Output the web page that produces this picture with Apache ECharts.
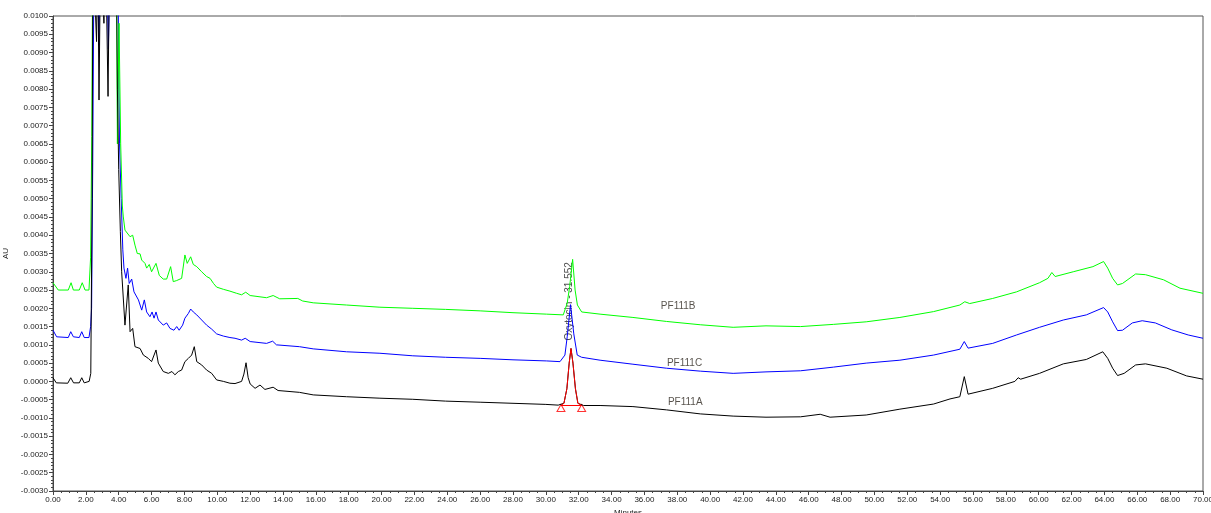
<!DOCTYPE html>
<html>
<head>
<meta charset="utf-8">
<title>PF111 chromatogram</title>
<script src="https://cdn.jsdelivr.net/npm/echarts@6/dist/echarts.min.js"></script>
<style>
    html, body { margin: 0; padding: 0; background: #fff; }
    #chartView { width: 1211px; height: 513px; }
</style>
</head>
<body>
<div id="chartView"></div>
<script>
    // PF111A (black)
    var pf111aTime = [0, 0.2, 0.9, 1.08, 1.25, 1.6, 1.75, 1.9, 2.2, 2.3, 2.38, 2.43, 2.55, 2.65, 2.72, 2.8, 2.9, 3.1, 3.2, 3.35, 3.45, 3.85, 3.92, 4.0, 4.1, 4.18,
        4.38, 4.58, 4.69, 4.85, 4.99, 5.3, 5.5, 5.8, 6.0, 6.27, 6.41, 6.71, 7.02, 7.24, 7.42, 7.63, 7.83, 8.03, 8.24, 8.44, 8.6, 8.75, 9.05, 9.35, 9.66, 9.96,
        10.37, 10.77, 11.08, 11.48, 11.62, 11.75, 11.88, 12.0, 12.3, 12.6, 12.9, 13.4, 13.7, 15.0, 15.84, 17.87, 19.9, 21.9, 23.9, 26.0, 28.0, 30.0, 30.75,
        31.1, 31.28, 31.42, 31.53, 31.65, 31.8, 31.95, 32.3, 33.3, 35.3, 37.35, 39.4, 41.4, 43.4, 45.5, 46.7, 47.3, 49.5, 51.55, 53.6, 54.6, 55.2, 55.47, 55.7,
        57.2, 58.55, 58.75, 58.9, 60.05, 61.5, 62.9, 63.9, 64.2, 64.5, 64.8, 65.2, 65.9, 66.5, 67.8, 69.0, 70.0];
    var pf111aValue = [0.0001, -0.00004, -0.00005, 0.0001, -0.00004, -0.00004, 0.0001, -0.00004, 0.0, 0.00022, 0.005, 0.012, 0.012, 0.0093, 0.012, 0.0077, 0.012, 0.0098, 0.012, 0.0078, 0.012, 0.012, 0.008, 0.0058, 0.0041, 0.003,
        0.00154, 0.00264, 0.00136, 0.00145, 0.00095, 0.0009, 0.00072, 0.00063, 0.00054, 0.00086, 0.0005, 0.00027, 0.00022, 0.00027, 0.00018, 0.00027, 0.00031, 0.00054, 0.00063, 0.00072, 0.00095, 0.00054, 0.00045, 0.00031, 0.00022, 0.00004,
        0.0, -0.00005, -0.00006, 0.0, 0.0002, 0.00051, 0.0001, -0.00007, -0.00019, -0.0001, -0.00022, -0.00016, -0.00025, -0.0003, -0.00037, -0.00042, -0.00046, -0.00049, -0.00054, -0.00057, -0.0006, -0.00063, -0.00065,
        -0.0006, -0.0002, 0.0005, 0.0009, 0.0005, -0.0002, -0.0006, -0.00066, -0.00066, -0.00069, -0.00078, -0.00089, -0.00095, -0.00098, -0.00097, -0.0009, -0.00098, -0.00092, -0.00076, -0.00062, -0.00048, -0.00042, 0.00013, -0.00035,
        -0.00019, 0.0, 0.0001, 0.00006, 0.00022, 0.00048, 0.0006, 0.00081, 0.00063, 0.00036, 0.00016, 0.00022, 0.00045, 0.00048, 0.00036, 0.00015, 0.00006];

    // PF111C (blue)
    var pf111cTime = [0, 0.22, 0.93, 1.08, 1.24, 1.6, 1.75, 1.9, 2.19, 2.29, 2.35, 2.42, 2.5, 2.7, 2.79, 2.9, 3.25, 3.37, 3.5, 3.95, 4.0, 4.05, 4.15, 4.25, 4.32,
        4.44, 4.54, 4.64, 4.79, 4.93, 5.2, 5.3, 5.4, 5.56, 5.7, 5.9, 6.03, 6.15, 6.27, 6.41, 6.71, 6.92, 7.12, 7.22, 7.36, 7.53, 7.68, 7.89, 8.03, 8.24, 8.38,
        8.54, 8.75, 9.05, 9.35, 9.66, 9.96, 10.37, 10.77, 11.08, 11.2, 11.48, 11.7, 12.0, 13.0, 13.37, 13.6, 15.0, 15.84, 17.87, 19.9, 21.9, 23.9, 26.0, 28.0,
        30.05, 30.86, 31.16, 31.3, 31.5, 31.7, 31.91, 32.18, 33.3, 35.3, 37.35, 39.4, 41.4, 43.4, 45.5, 47.5, 49.5, 51.55, 53.6, 55.2, 55.47, 55.7, 57.2, 58.65,
        60.05, 61.5, 62.9, 63.95, 64.2, 64.5, 64.8, 65.1, 65.7, 66.3, 67.1, 68.1, 69.1, 70.0];
    var pf111cValue = [0.0014, 0.00122, 0.0012, 0.00136, 0.00122, 0.0012, 0.00136, 0.0012, 0.0012, 0.0015, 0.002, 0.006, 0.012, 0.012, 0.0092, 0.012, 0.012, 0.0091, 0.012, 0.012, 0.0085, 0.0065, 0.005, 0.0036, 0.0031,
        0.00282, 0.0031, 0.00268, 0.0028, 0.00245, 0.00223, 0.00218, 0.00195, 0.00223, 0.0019, 0.00177, 0.0019, 0.00173, 0.0019, 0.00168, 0.00154, 0.0016, 0.00145, 0.0015, 0.0014, 0.0015, 0.0014, 0.00154, 0.00173, 0.00186, 0.00198,
        0.0019, 0.00182, 0.00168, 0.00154, 0.00143, 0.0013, 0.00124, 0.0012, 0.00118, 0.0012, 0.00113, 0.00118, 0.00109, 0.00104, 0.0011, 0.001, 0.00095, 0.00089, 0.00081, 0.00077, 0.0007, 0.00066, 0.00063, 0.00059,
        0.00056, 0.00054, 0.00072, 0.00122, 0.0021, 0.0013, 0.00072, 0.00066, 0.00058, 0.00047, 0.00036, 0.00028, 0.00022, 0.00026, 0.00029, 0.00039, 0.0005, 0.00058, 0.00072, 0.00088, 0.00109, 0.00091, 0.00104, 0.00127,
        0.00148, 0.00168, 0.00182, 0.00202, 0.0019, 0.00163, 0.00139, 0.0014, 0.0016, 0.00166, 0.0016, 0.00141, 0.00127, 0.00118];

    // PF111B (green)
    var pf111bTime = [0, 0.32, 0.93, 1.1, 1.24, 1.6, 1.78, 1.95, 2.19, 2.29, 2.36, 2.42, 3.85, 3.92, 4.02, 4.12, 4.22, 4.28, 4.38, 4.49, 4.69, 4.85, 4.99, 5.13,
        5.3, 5.4, 5.6, 5.7, 5.86, 6.0, 6.27, 6.47, 6.71, 6.92, 7.16, 7.32, 7.53, 7.63, 7.83, 8.03, 8.17, 8.38, 8.54, 8.75, 9.05, 9.35, 9.56, 9.77, 9.96, 10.37,
        10.77, 11.18, 11.48, 11.73, 12.0, 13.0, 13.4, 13.8, 14.9, 15.2, 15.84, 17.87, 19.9, 21.9, 23.9, 26.0, 28.0, 30.05, 31.06, 31.3, 31.45, 31.63, 31.78,
        31.92, 32.18, 33.3, 35.3, 37.35, 39.4, 41.4, 43.4, 45.5, 47.5, 49.5, 51.55, 53.6, 55.2, 55.5, 55.8, 57.2, 58.65, 60.05, 60.56, 60.8, 61.0, 62.1, 63.3,
        63.95, 64.2, 64.5, 64.8, 65.1, 65.9, 66.5, 67.6, 68.6, 70.0];
    var pf111bValue = [0.0027, 0.0025, 0.0025, 0.0027, 0.0025, 0.0025, 0.0027, 0.0025, 0.0025, 0.0034, 0.0067, 0.012, 0.012, 0.0065, 0.0098, 0.0065, 0.0048, 0.0045, 0.00414, 0.0041, 0.00396, 0.004, 0.00373, 0.0035,
        0.00349, 0.00332, 0.00323, 0.0031, 0.0032, 0.003, 0.00323, 0.0029, 0.0028, 0.0028, 0.00314, 0.00273, 0.00276, 0.00272, 0.00282, 0.00346, 0.00323, 0.00341, 0.0032, 0.00314, 0.003, 0.00287, 0.00282, 0.00268, 0.00258, 0.00252,
        0.00247, 0.00241, 0.00237, 0.00244, 0.00235, 0.00229, 0.00235, 0.00226, 0.00227, 0.0022, 0.00215, 0.00209, 0.00203, 0.002, 0.00197, 0.00193, 0.00188, 0.00184, 0.00182, 0.00214, 0.0026, 0.00334, 0.0025,
        0.00209, 0.0019, 0.00184, 0.00175, 0.00164, 0.00155, 0.00148, 0.00152, 0.0015, 0.00156, 0.00163, 0.00175, 0.00191, 0.00209, 0.00218, 0.00213, 0.00227, 0.00245, 0.0027, 0.00282, 0.00298, 0.00287, 0.003, 0.00314,
        0.00328, 0.0031, 0.00282, 0.00264, 0.00268, 0.00294, 0.00292, 0.00278, 0.00255, 0.00241];

    // integrated oxytocin peak on PF111A (red), closed by its baseline
    var peakTime = [30.92, 31.1, 31.28, 31.42, 31.53, 31.65, 31.8, 31.95, 32.18, 30.92];
    var peakValue = [-0.00066, -0.0006, -0.0002, 0.0005, 0.0009, 0.0005, -0.0002, -0.0006, -0.00066, -0.00066];
    var peakMarkTime = [30.92, 32.18];
    var peakMarkValue = [-0.00073, -0.00073];
    var peakName = 'Oxytocin - 31.552';
    var peakLabelPos = [31.44, 0.0009];

    // trace names placed next to the traces
    var traceNames = ['PF111B', 'PF111C', 'PF111A'];
    var traceNameTime = [37.0, 37.37, 37.43];
    var traceNameValue = [0.00206, 0.0005, -0.00056];

    // y ticks: -0.0030 .. 0.0100 every 0.0005, x ticks: 0.00 .. 70.00 every 2.00
    var yMin = -0.003, yMax = 0.01, yStep = 0.0005;
    var xMin = 0, xMax = 70, xStep = 2;

    function zipPairs(xs, ys) {
        return xs.map(function (x, i) { return [x, ys[i]]; });
    }

    var chartView = echarts.init(document.getElementById('chartView'), null, {renderer: 'canvas'});

    var axisFont = {fontFamily: 'Liberation Sans, Arial, sans-serif', fontSize: 8, color: '#222'};

    function traceSeries(name, xs, ys, color) {
        return {
            name: name,
            type: 'line',
            data: zipPairs(xs, ys),
            showSymbol: false,
            symbol: 'none',
            clip: true,
            lineStyle: {color: color, width: 1},
            itemStyle: {color: color},
            silent: true
        };
    }

    var option = {
        animation: false,
        backgroundColor: '#fff',
        grid: {
            left: 53,
            right: 8,
            top: 16,
            bottom: 22,
            outerBoundsMode: 'none',
            containLabel: false,
            show: true,
            borderColor: '#555',
            borderWidth: 1
        },
        xAxis: {
            type: 'value',
            min: xMin,
            max: xMax,
            interval: xStep,
            name: 'Minutes',
            nameLocation: 'middle',
            nameGap: 16,
            nameTextStyle: axisFont,
            axisLine: {show: true, onZero: false, lineStyle: {color: '#444', width: 1}},
            axisTick: {show: true, inside: false, length: 4, lineStyle: {color: '#444'}},
            minorTick: {show: true, splitNumber: 4, length: 2, lineStyle: {color: '#444'}},
            splitLine: {show: false},
            axisLabel: Object.assign({margin: 5, formatter: function (v) { return v.toFixed(2); }}, axisFont)
        },
        yAxis: {
            type: 'value',
            min: yMin,
            max: yMax,
            interval: yStep,
            name: 'AU',
            nameLocation: 'middle',
            nameGap: 40,
            nameRotate: 90,
            nameTextStyle: axisFont,
            axisLine: {show: true, onZero: false, lineStyle: {color: '#444', width: 1}},
            axisTick: {show: true, inside: false, length: 4, lineStyle: {color: '#444'}},
            minorTick: {show: true, splitNumber: 5, length: 2, lineStyle: {color: '#444'}},
            splitLine: {show: false},
            axisLabel: Object.assign({margin: 5, formatter: function (v) { return v.toFixed(4); }}, axisFont)
        },
        series: [
            traceSeries('PF111C', pf111cTime, pf111cValue, '#0000ff'),
            traceSeries('PF111B', pf111bTime, pf111bValue, '#00ff00'),
            traceSeries('PF111A', pf111aTime, pf111aValue, '#000000'),
            traceSeries('peak', peakTime, peakValue, '#ff0000'),
            {
                type: 'scatter',
                data: zipPairs(peakMarkTime, peakMarkValue),
                symbol: 'triangle',
                symbolSize: [8, 7],
                itemStyle: {color: 'rgba(255,255,255,0)', borderColor: '#ff0000', borderWidth: 1},
                silent: true
            },
            {
                type: 'scatter',
                data: [peakLabelPos],
                symbolSize: 0,
                silent: true,
                label: {
                    show: true,
                    formatter: peakName,
                    position: 'top',
                    distance: 8,
                    rotate: 90,
                    align: 'left',
                    verticalAlign: 'middle',
                    fontFamily: 'Liberation Sans, Arial, sans-serif',
                    fontSize: 10,
                    color: '#222'
                }
            },
            {
                type: 'scatter',
                data: traceNames.map(function (n, i) { return {name: n, value: [traceNameTime[i], traceNameValue[i]]}; }),
                symbolSize: 0,
                silent: true,
                label: {
                    show: true,
                    formatter: '{b}',
                    position: 'right',
                    distance: 0,
                    fontFamily: 'Liberation Sans, Arial, sans-serif',
                    fontSize: 10,
                    color: '#2e2820'
                }
            }
        ]
    };

    chartView.setOption(option);
</script>
</body>
</html>
